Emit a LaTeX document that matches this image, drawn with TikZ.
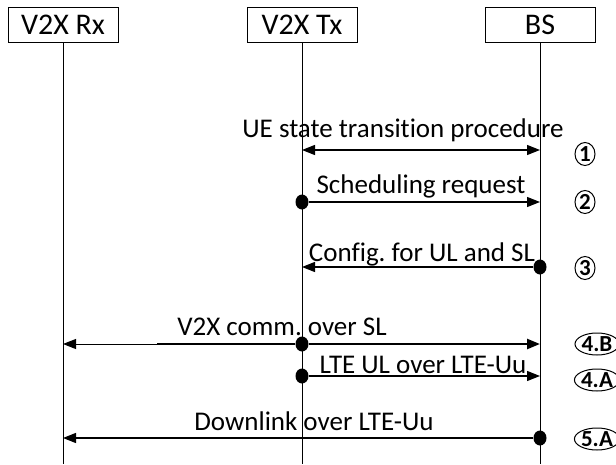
\documentclass[tikz,border=0pt]{standalone}
\usepackage{fontspec}
\setmainfont{Carlito}[Ligatures=NoCommon]
\usetikzlibrary{arrows.meta,shapes.geometric}
\frenchspacing

\begin{document}
\begin{tikzpicture}[
  x=1pt, y=-1pt,
  >={Triangle[length=13pt,width=10pt]},
  entity/.style={draw, line width=1pt, minimum width=110pt, minimum height=35pt,
    inner sep=2pt, font=\fontsize{30}{32}\selectfont},
  lbl/.style={anchor=base, inner sep=2pt, font=\fontsize{27}{30}\selectfont},
  lifeline/.style={draw, line width=0.9pt},
  msg/.style={draw, line width=1.2pt, ->},
  dot/.style={ellipse, fill, inner sep=0pt, minimum width=13pt, minimum height=15pt},
  tag/.style={ellipse, draw, line width=1pt, inner sep=0pt, minimum width=20pt,
    minimum height=23pt, font=\fontsize{23}{25}\selectfont\bfseries}
]
\useasboundingbox (0,0) rectangle (616,464);
% entities and lifelines
\node[entity] (rx) at (63,24.5) {V2X Rx};
\node[entity] (tx) at (302,24.5) {V2X Tx};
\node[entity] (bs) at (540,24.5) {BS};
\coordinate (rxend) at (63,464);
\coordinate (txend) at (302,464);
\coordinate (bsend) at (540,464);
\draw[lifeline] (rx) -- (rxend);
\draw[lifeline] (tx) -- (txend);
\draw[lifeline] (bs) -- (bsend);

% 1: UE state transition
\coordinate (tx1) at (302,150);
\coordinate (bs1) at (540,150);
\draw[msg, <->] (tx1) -- (bs1);
\node[lbl] (lab1) at (403,137) {UE state transition procedure};
\node[tag] (tag1) at (585,154) {1};

% 2: scheduling request
\node[dot] (d2) at (302,202) {};
\coordinate (bs2) at (540,202);
\draw[msg] (d2) -- (bs2);
\node[lbl] (lab2) at (421,193) {Scheduling request};
\node[tag] (tag2) at (585,202) {2};

% 3: configuration
\node[dot] (d3) at (540,267) {};
\coordinate (tx3) at (302,267);
\draw[msg] (d3) -- (tx3);
\node[lbl] (lab3) at (422,261) {Config. for UL and SL};
\node[tag] (tag3) at (585,268) {3};

% 4.B: sidelink
\node[dot] (d4b) at (302,344) {};
\coordinate (rx4b) at (63,344);
\coordinate (mid4b) at (157,344);
\coordinate (bs4b) at (540,344);
\draw[msg, line width=1pt] (d4b) -- (rx4b);
\draw[line width=2.4pt] (d4b) -- (mid4b);
\draw[msg, line width=2.4pt] (d4b) -- (bs4b);
\node[lbl] (lab4b) at (282,335) {V2X comm. over SL};
\node[tag, minimum width=44pt, minimum height=22pt] (tag4b) at (597,344) {4.B};

% 4.A: uplink
\node[dot] (d4a) at (302,376) {};
\coordinate (bs4a) at (540,376);
\draw[msg] (d4a) -- (bs4a);
\node[lbl] (lab4a) at (423,373) {LTE UL over LTE-Uu};
\node[tag, minimum width=44pt, minimum height=22pt] (tag4a) at (597,380) {4.A};

% 5.A: downlink
\node[dot] (d5a) at (540,438) {};
\coordinate (rx5a) at (63,438);
\draw[msg] (d5a) -- (rx5a);
\node[lbl] (lab5a) at (314,430) {Downlink over LTE-Uu};
\node[tag, minimum width=44pt, minimum height=22pt] (tag5a) at (597,439) {5.A};
\end{tikzpicture}
\end{document}
